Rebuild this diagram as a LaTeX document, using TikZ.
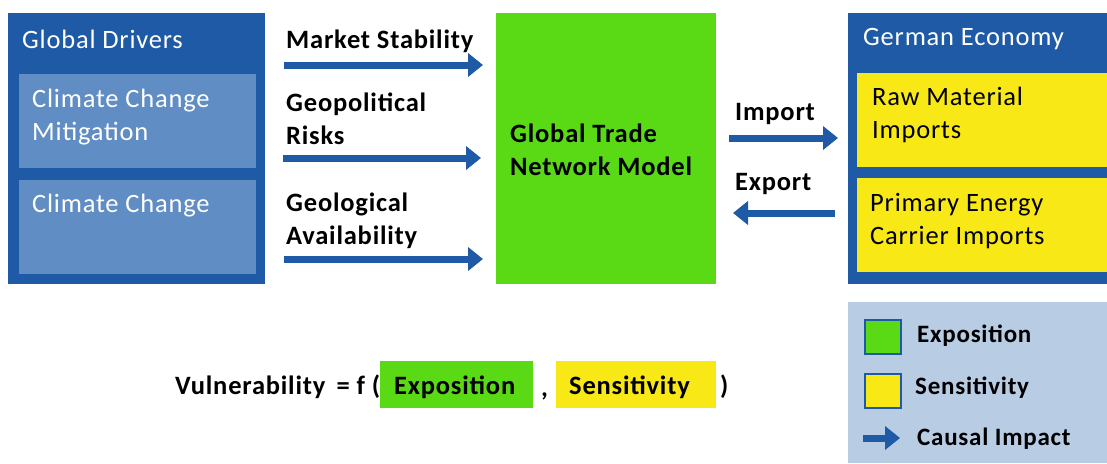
\documentclass[tikz,border=0pt]{standalone}
\usepackage{fontspec}
\setmainfont{Carlito}[LetterSpace=3]
\usetikzlibrary{arrows.meta,positioning}

\definecolor{drvblue}{HTML}{1F5AA6}
\definecolor{mitblue}{HTML}{608DC4}
\definecolor{expgreen}{HTML}{5AD915}
\definecolor{senyellow}{HTML}{F8E816}
\definecolor{legbg}{HTML}{B8CCE4}

\tikzset{
  box/.style={rectangle, inner sep=0pt, outer sep=0pt, anchor=north west},
  wtxt/.style={text=white, inner sep=0pt, anchor=west, align=left, font=\fontsize{26.5}{33}\selectfont},
  ktxt/.style={text=black, inner sep=0pt, anchor=west, align=left, font=\fontsize{26.5}{33}\selectfont},
  btxt/.style={text=black, inner sep=0pt, anchor=west, align=left, font=\fontsize{26.5}{33}\selectfont\bfseries},
  legtxt/.style={btxt, font=\fontsize{25}{30}\selectfont\bfseries},
  impact/.style={draw=drvblue, line width=7pt, -{Triangle[length=15pt,width=23pt]}},
  legsq/.style={box, draw=drvblue, line width=2pt, minimum width=36pt, minimum height=34pt},
}

\begin{document}
\begin{tikzpicture}[x=1pt,y=-1pt]
    \useasboundingbox (0,0) rectangle (1107,463);

    % global drivers
    \node[box, fill=drvblue, minimum width=257pt, minimum height=271pt] (drv) at (8,13) {};
    \node[box, fill=mitblue, minimum width=237pt, minimum height=94pt] (mit) at (19,74) {};
    \node[box, fill=mitblue, minimum width=237pt, minimum height=94pt] (cc) at (19,180) {};
    \node[wtxt] (drvT) at (22,39) {Global Drivers};
    \node[wtxt] (mitT) at (32,117) {Climate Change\\Mitigation};
    \node[wtxt] (ccT) at (32,206) {Climate Change};

    % trade model
    \node[box, fill=expgreen, minimum width=220pt, minimum height=271pt] (gtn) at (496,13) {};
    \node[btxt] (gtnT) at (510,150) {Global Trade\\Network Model};

    % drivers into the model
    \node[btxt] (msT) at (286,41) {Market Stability};
    \node[btxt] (gpT) at (286,119) {Geopolitical\\Risks};
    \node[btxt] (glT) at (286,221) {Geological\\Availability};
    \coordinate (ms) at (284,65);
    \coordinate (gp) at (283,158);
    \coordinate (gl) at (284,259);
    \draw[impact, shorten >=13pt] (ms) -- (ms -| gtn.west);
    \draw[impact, shorten >=15pt] (gp) -- (gp -| gtn.west);
    \draw[impact, shorten >=13pt] (gl) -- (gl -| gtn.west);

    % german economy
    \node[box, fill=drvblue, minimum width=259pt, minimum height=271pt] (ger) at (848,13) {};
    \node[box, fill=senyellow, minimum width=250pt, minimum height=94pt] (raw) at (857,73) {};
    \node[box, fill=senyellow, minimum width=250pt, minimum height=94pt] (pec) at (857,178) {};
    \node[wtxt] (gerT) at (863,39) {German Economy};
    \node[ktxt] (rawT) at (872,115) {Raw Material\\Imports};
    \node[ktxt] (pecT) at (870,221) {Primary Energy\\Carrier Imports};

    % trade flows
    \coordinate (imp) at (0,138);
    \coordinate (exp) at (0,213);
    \node[btxt] (impT) at (735,114) {Import};
    \node[btxt] (expT) at (735,184) {Export};
    \draw[impact, shorten <=13pt, shorten >=10pt] (gtn.east |- imp) -- (ger.west |- imp);
    \draw[impact, shorten <=13pt, shorten >=17pt] (ger.west |- exp) -- (gtn.east |- exp);

    % vulnerability formula
    \node[btxt] (vulT) at (175,387) {Vulnerability \,= f (};
    \node[box, fill=expgreen, minimum width=153pt, minimum height=47pt] (fE) at (380,361) {};
    \node[btxt] (fET) at (394,387) {Exposition};
    \node[btxt, anchor=base west] (comT) at (541,396) {,};
    \node[box, fill=senyellow, minimum width=160pt, minimum height=47pt] (fS) at (556,361) {};
    \node[btxt] (fST) at (569,387) {Sensitivity};
    \node[btxt] (parT) at (720,387) {)};

    % legend
    \node[box, fill=legbg, minimum width=259pt, minimum height=161pt] (leg) at (848,302) {};
    \node[legsq, fill=expgreen] (lgE) at (865,320) {};
    \node[legsq, fill=senyellow] (lgS) at (865,374) {};
    \coordinate (lgA) at (863,438);
    \coordinate (lgB) at (900,438);
    \draw[impact] (lgA) -- (lgB);
    \node[legtxt] (lgET) at (917,336) {Exposition};
    \node[legtxt] (lgST) at (915,388) {Sensitivity};
    \node[legtxt] (lgAT) at (917,439) {Causal Impact};
\end{tikzpicture}
\end{document}
